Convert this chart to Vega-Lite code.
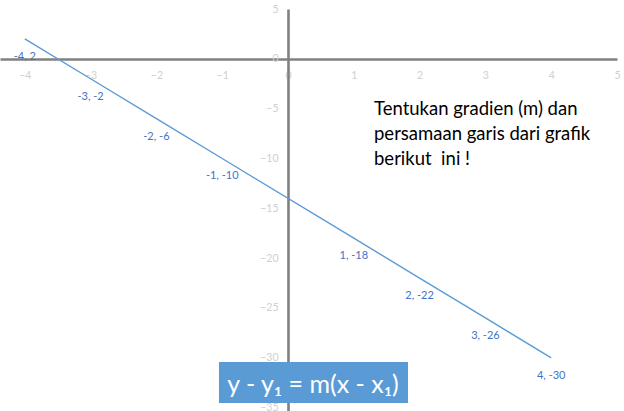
{
  "$schema": "https://vega.github.io/schema/vega-lite/v6.json",
  "autosize": {"type": "none"},
  "width": 617,
  "height": 402,
  "padding": {"left": 0, "top": 9, "right": 7, "bottom": 0},
  "background": "white",
  "config": {"view": {"stroke": null}, "font": "Lato"},
  "datasets": {
    "points": [
      {"x": -4, "y": 2, "label": "-4, 2"},
      {"x": -3, "y": -2, "label": "-3, -2"},
      {"x": -2, "y": -6, "label": "-2, -6"},
      {"x": -1, "y": -10, "label": "-1, -10"},
      {"x": 1, "y": -18, "label": "1, -18"},
      {"x": 2, "y": -22, "label": "2, -22"},
      {"x": 3, "y": -26, "label": "3, -26"},
      {"x": 4, "y": -30, "label": "4, -30"}
    ],
    "notes": [
      {"note": "Tentukan gradien (m) dan\npersamaan garis dari grafik\nberikut \u00a0ini !", "formula": "y - y₁ = m(x - x₁)"}
    ]
  },
  "layer": [
    {
      "data": {"name": "points"},
      "mark": {"type": "line", "color": "#5b9bd5", "strokeWidth": 1.4},
      "encoding": {
        "x": {
          "field": "x", "type": "quantitative",
          "scale": {"domain": [-4.377, 5], "nice": false, "zero": false},
          "axis": {
            "title": null, "orient": "bottom", "offset": -352, "format": "d",
            "values": [-4, -3, -2, -1, 0, 1, 2, 3, 4, 5],
            "grid": false, "ticks": false, "tickSize": 0,
            "domainColor": "#808080", "domainWidth": 2.6,
            "labelColor": "#d0d0d0", "labelFontSize": 10.5, "labelPadding": 11,
            "labelOverlap": false, "labelFlush": false, "labelBound": false
          }
        },
        "y": {
          "field": "y", "type": "quantitative",
          "scale": {"domain": [-35.34, 5], "nice": false, "zero": false},
          "axis": {
            "title": null, "orient": "left", "offset": -288, "format": "d",
            "values": [5, 0, -5, -10, -15, -20, -25, -30, -35],
            "grid": false, "ticks": false, "tickSize": 0,
            "domainColor": "#808080", "domainWidth": 2.6,
            "labelColor": "#d0d0d0", "labelFontSize": 10.5, "labelPadding": 10,
            "labelOverlap": false, "labelFlush": false, "labelBound": false
          }
        }
      }
    },
    {
      "data": {"name": "points"},
      "mark": {"type": "text", "color": "#4472c4", "fontSize": 11, "dy": 18, "align": "center", "baseline": "middle"},
      "encoding": {
        "x": {"field": "x", "type": "quantitative"},
        "y": {"field": "y", "type": "quantitative"},
        "text": {"field": "label"}
      }
    },
    {
      "data": {"name": "notes"},
      "mark": {"type": "rect", "color": "#5b9bd5"},
      "encoding": {
        "x": {"datum": -1.049, "type": "quantitative"},
        "x2": {"datum": 1.824},
        "y": {"datum": -30.42, "type": "quantitative"},
        "y2": {"datum": -34.54}
      }
    },
    {
      "data": {"name": "notes"},
      "mark": {"type": "text", "color": "white", "fontSize": 25, "align": "center", "baseline": "alphabetic"},
      "encoding": {
        "x": {"datum": 0.38, "type": "quantitative"},
        "y": {"datum": -33.5, "type": "quantitative"},
        "text": {"field": "formula"}
      }
    },
    {
      "data": {"name": "notes"},
      "mark": {"type": "text", "color": "black", "fontSize": 18.5, "align": "left", "baseline": "alphabetic", "lineBreak": "\n", "lineHeight": 25},
      "encoding": {
        "x": {"datum": 1.307, "type": "quantitative"},
        "y": {"datum": -5.62, "type": "quantitative"},
        "text": {"field": "note"}
      }
    }
  ]
}
